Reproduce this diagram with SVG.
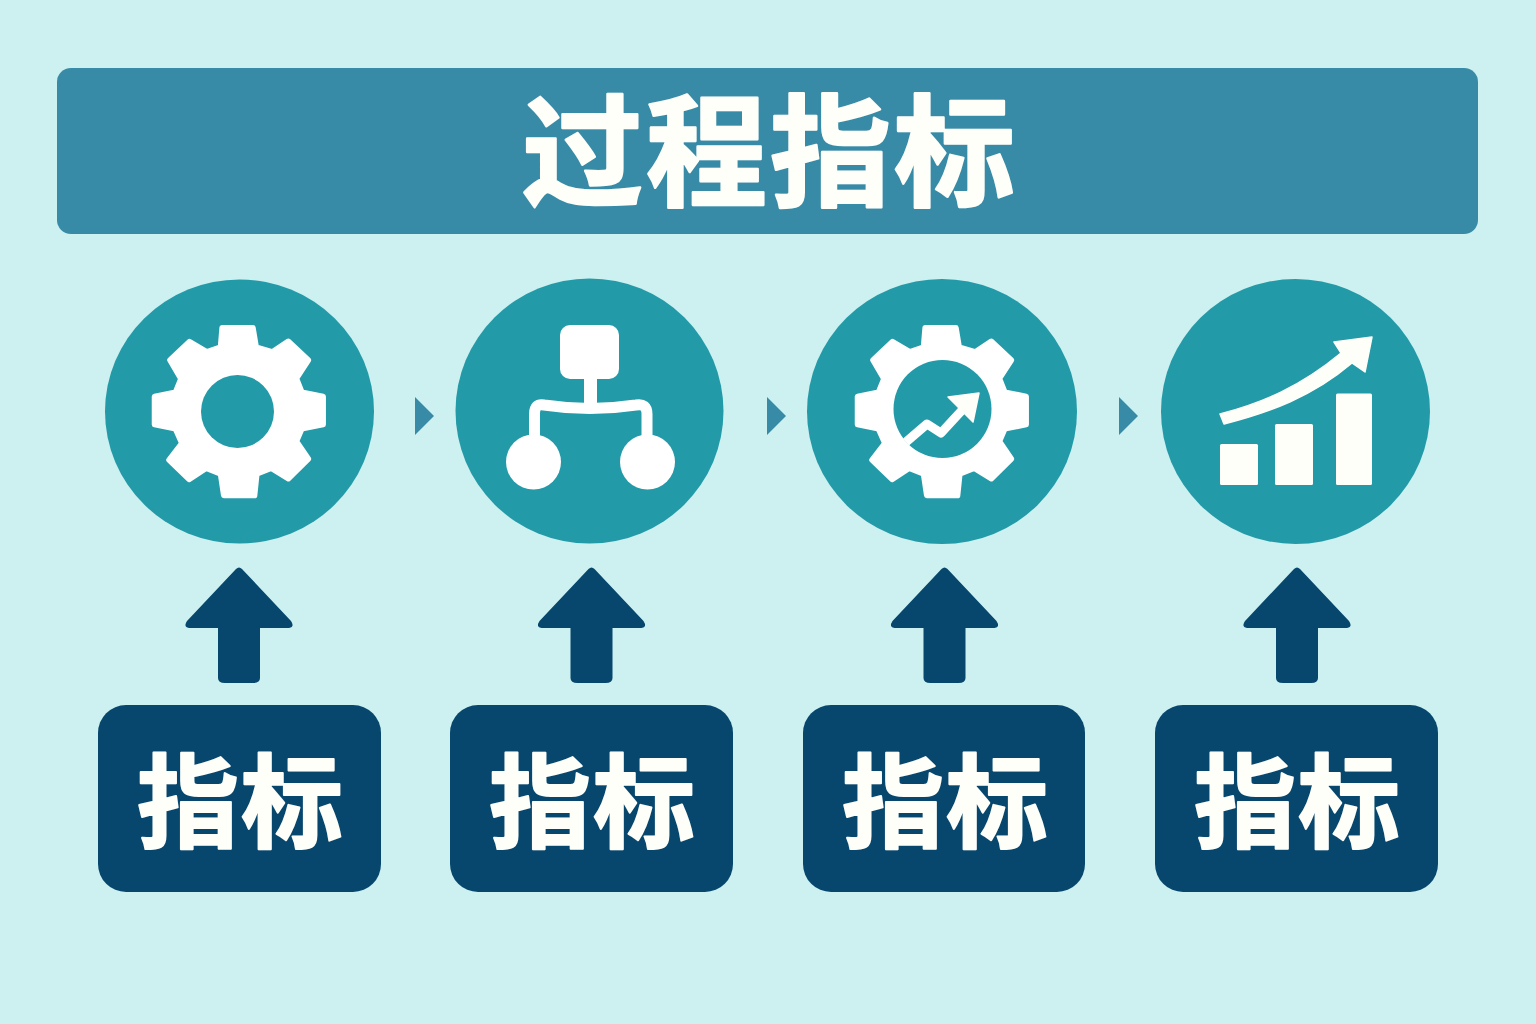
<svg xmlns="http://www.w3.org/2000/svg" xmlns:xlink="http://www.w3.org/1999/xlink" width="1536" height="1024" viewBox="0 0 1536 1024">
<style>
.disc{fill:#239aa8}
.w{fill:#fff}
.cream{fill:#fffffa}
.box{fill:#07476e}
.up{fill:#07476e}
.tri{fill:#388ba6}
text{font-family:"Noto Sans CJK SC","Noto Sans",sans-serif;font-weight:700;text-anchor:middle;fill:#fffffa;stroke:#fffffa;stroke-linejoin:round}
.lbl{font-size:102px;letter-spacing:2px;stroke-width:2px}
</style>
<defs>
<path id="gearbody" fill="#fff" stroke="#fff" stroke-width="18" stroke-linejoin="round" transform="scale(.322) translate(-417,-423)" d="M365,165 H460 L470,225 L520,240 L570,207 L632,265 L595,322 L612,365 L678,378 V465 L612,478 L595,517 L632,572 L570,633 L517,600 L472,618 L465,685 H370 L360,618 L315,600 L262,635 L200,575 L240,523 L220,478 L155,465 V378 L220,365 L237,323 L203,265 L263,208 L317,240 L360,225 Z"/>
<path id="uparrow" d="M-3,-115 Q0,-118 3,-115 L52,-63 Q56,-57 50,-56 H21 V-6 Q21,-1 14,-1 H-14 Q-21,-1 -21,-6 V-56 H-50 Q-56,-57 -52,-63 Z"/>
<path id="tip" d="M0,0 L19,19 L0,38 Z"/>
</defs>
<rect width="1536" height="1024" fill="#cdf0f1"/>
<g id="title">
<rect x="57" y="68" width="1421" height="166" rx="14" fill="#388ba6"/>
<text x="770" y="196" font-size="121" letter-spacing="3" stroke-width="2.500">过程指标</text>
</g>
<g id="node-gear">
<ellipse class="disc" cx="239.500" cy="411.500" rx="134.500" ry="132"/>
<use xlink:href="#gearbody" transform="translate(239,411)"/>
<circle class="disc" cx="237.500" cy="411.500" r="36.500"/>
</g>
<g id="node-flow">
<ellipse class="disc" cx="589.500" cy="411" rx="134" ry="132.500"/>
<rect class="w" x="560" y="325" width="59" height="54" rx="10"/>
<rect class="w" x="584" y="375" width="13" height="34"/>
<path d="M534.500,440 V414 Q534.500,403 544,405 Q590,412 636,405 Q647,403 647,414 V440" fill="none" stroke="#fff" stroke-width="11"/>
<circle class="w" cx="533.500" cy="462" r="27.500"/>
<circle class="w" cx="647.500" cy="462" r="27.500"/>
</g>
<g id="node-gear-chart">
<ellipse class="disc" cx="942" cy="411.500" rx="135" ry="132.500"/>
<use xlink:href="#gearbody" transform="translate(942,411)"/>
<circle class="disc" cx="942.500" cy="409" r="49"/>
<path d="M906,442 L927,424 L941,433 L965,407" fill="none" stroke="#fff" stroke-width="9" stroke-linejoin="round"/>
<path class="cream" d="M948,397 L979,393 L973,422 Z" stroke="#fffffa" stroke-width="1.500" stroke-linejoin="round"/>
</g>
<g id="node-growth">
<ellipse class="disc" cx="1295.500" cy="411.500" rx="134.500" ry="132.500"/>
<rect class="cream" x="1220" y="444" width="38" height="41" rx="1.500"/>
<rect class="cream" x="1275" y="424" width="38" height="61" rx="1.500"/>
<rect class="cream" x="1336" y="393.500" width="36" height="91.500" rx="1.500"/>
<path class="cream" d="M1220,414 C1262,403 1300,387 1341,353 L1334,342 L1372,337 L1365,372 L1352,363 C1312,397 1270,412 1224,424 Z" stroke="#fffffa" stroke-width="1.500" stroke-linejoin="round"/>
</g>
<g id="connectors">
<use xlink:href="#tip" class="tri" x="415" y="397"/>
<use xlink:href="#tip" class="tri" x="767" y="397"/>
<use xlink:href="#tip" class="tri" x="1119" y="397"/>
<use xlink:href="#uparrow" class="up" x="239" y="684"/>
<use xlink:href="#uparrow" class="up" x="591.500" y="684"/>
<use xlink:href="#uparrow" class="up" x="944.500" y="684"/>
<use xlink:href="#uparrow" class="up" x="1297" y="684"/>
</g>
<g id="node-label-1"><rect class="box" x="98" y="705" width="283" height="187" rx="28"/><text class="lbl" x="241" y="840">指标</text></g>
<g id="node-label-2"><rect class="box" x="450" y="705" width="283" height="187" rx="28"/><text class="lbl" x="593" y="840">指标</text></g>
<g id="node-label-3"><rect class="box" x="803" y="705" width="282" height="187" rx="28"/><text class="lbl" x="946" y="840">指标</text></g>
<g id="node-label-4"><rect class="box" x="1155" y="705" width="283" height="187" rx="28"/><text class="lbl" x="1298" y="840">指标</text></g>
</svg>
